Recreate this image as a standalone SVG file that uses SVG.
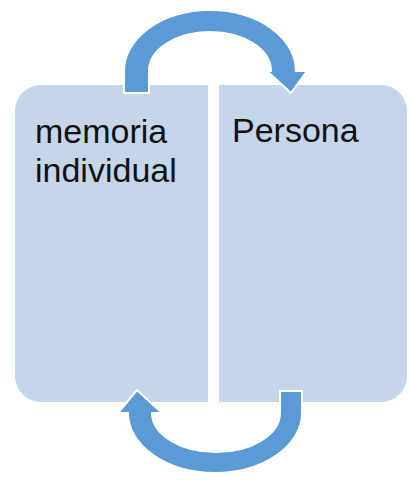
<svg xmlns="http://www.w3.org/2000/svg" width="409" height="480" viewBox="0 0 409 480">
<style>
.box{fill:#C5D5EA;}
.arrow{fill:#5B9BD5;stroke:#FFFFFF;stroke-width:2;stroke-linejoin:miter;}
.lbl{font-family:"Liberation Sans","Arial",sans-serif;font-size:34px;fill:#111111;}
</style>
<rect width="409" height="480" fill="#FFFFFF"/>
<g id="node-memoria">
<path class="box" d="M41 85 H208 V402 H41 A26 26 0 0 1 15 376 V111 A26 26 0 0 1 41 85 Z"/>
<text class="lbl" x="35" y="143">memoria</text>
<text class="lbl" x="35" y="182">individual</text>
</g>
<g id="node-persona">
<path class="box" d="M219 85 H381 A26 26 0 0 1 407 111 V376 A26 26 0 0 1 381 402 H219 Z"/>
<text class="lbl" x="232" y="142">Persona</text>
</g>
<g id="connectors">
<path class="arrow" d="M124 93 L124 71 A86 61 0 0 1 296 71 L307 71 L291 93 L267 71 L271 71 A61 39 0 0 0 149 71 L149 93 Z"/>
<path class="arrow" d="M302 391 L302 413 A87 60 0 0 1 128 413 L118 413 L137 390 L162 413 L152 413 A64 39 0 0 0 280 413 L280 391 Z"/>
</g>
</svg>
